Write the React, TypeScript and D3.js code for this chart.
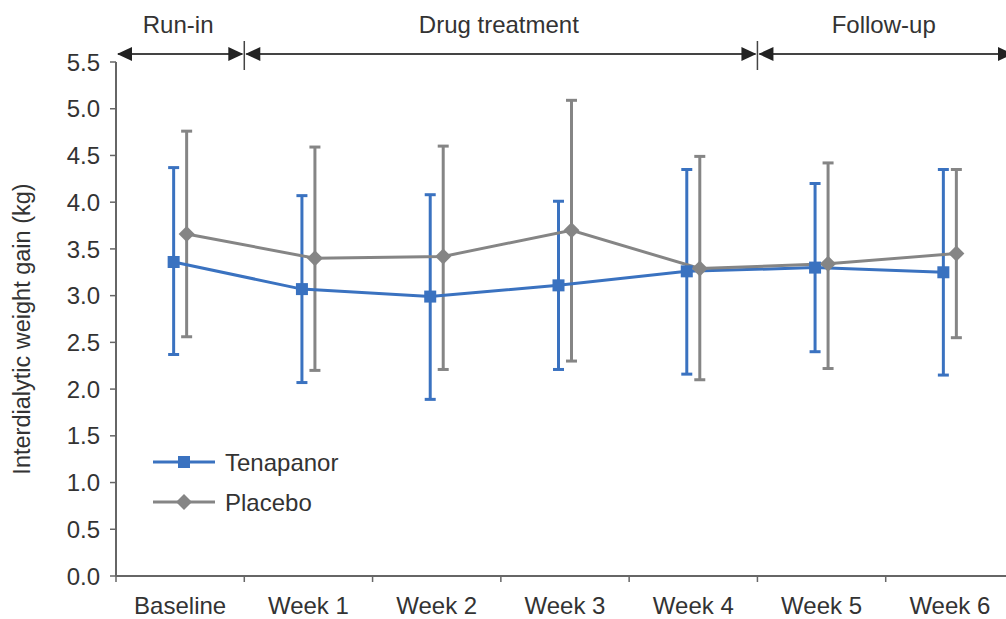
import React from "react";
import * as d3 from "d3";

const categories = ["Baseline", "Week 1", "Week 2", "Week 3", "Week 4", "Week 5", "Week 6"];
const tenapanorMean = [3.36, 3.07, 2.99, 3.11, 3.26, 3.30, 3.25];
const tenapanorLow = [2.37, 2.07, 1.89, 2.21, 2.16, 2.40, 2.15];
const tenapanorHigh = [4.37, 4.07, 4.08, 4.01, 4.35, 4.20, 4.35];
const placeboMean = [3.66, 3.40, 3.42, 3.70, 3.29, 3.34, 3.45];
const placeboLow = [2.56, 2.20, 2.21, 2.30, 2.10, 2.22, 2.55];
const placeboHigh = [4.76, 4.59, 4.60, 5.09, 4.49, 4.42, 4.35];
const yTicks = [0, 0.5, 1, 1.5, 2, 2.5, 3, 3.5, 4, 4.5, 5, 5.5];
const phases = [
  { label: "Run-in", from: "Baseline", to: "Baseline" },
  { label: "Drug treatment", from: "Week 1", to: "Week 4" },
  { label: "Follow-up", from: "Week 5", to: "Week 6" },
];

const W = 1006;
const H = 619;
const BLUE = "#3a72c0";
const GRAY = "#858585";
const AXIS = "#666666";
const TEXT = "#333333";
const FONT = "Liberation Sans, Arial, sans-serif";

export default function App() {
  const x = d3.scaleBand<string>().domain(categories).range([116, 1014]).paddingInner(0).paddingOuter(0);
  const y = d3.scaleLinear().domain([0, 5.5]).range([576, 62]);
  const bw = x.bandwidth();
  const off = 6.5;
  const cx = (c: string) => (x(c) as number) + bw / 2;

  const series = [
    { name: "Tenapanor", color: BLUE, mean: tenapanorMean, low: tenapanorLow, high: tenapanorHigh, dx: -off, marker: "square" },
    { name: "Placebo", color: GRAY, mean: placeboMean, low: placeboLow, high: placeboHigh, dx: off, marker: "diamond" },
  ];

  const line = d3.line<[number, number]>().x((d) => d[0]).y((d) => d[1]);

  const marker = (kind: string, px: number, py: number, color: string, key: string) =>
    kind === "square" ? (
      <rect key={key} x={px - 6} y={py - 6} width={12} height={12} fill={color} />
    ) : (
      <path key={key} d={`M${px},${py - 8}L${px + 8},${py}L${px},${py + 8}L${px - 8},${py}Z`} fill={color} />
    );

  const arrowY = 54;
  const tri = (tipX: number, dir: number, key: string) => (
    <path key={key} d={`M${tipX},${arrowY}L${tipX - dir * 15},${arrowY - 7}L${tipX - dir * 15},${arrowY + 7}Z`} fill="#222" />
  );

  return (
    <svg width={W} height={H} style={{ position: "absolute", left: 0, top: 0, background: "#fff" }} fontFamily={FONT}>
      {/* phase header */}
      {phases.map((p, i) => {
        const x0 = x(p.from) as number;
        const x1 = (x(p.to) as number) + bw;
        return (
          <g key={p.label}>
            <line x1={x0 + 2} x2={x1 - 2} y1={arrowY} y2={arrowY} stroke="#444" strokeWidth={2} />
            {tri(x0 + 1, -1, "l" + i)}
            {tri(x1 - 1, 1, "r" + i)}
            <text x={(x0 + x1) / 2 - 2} y={33} textAnchor="middle" fontSize={24} fill={TEXT}>{p.label}</text>
          </g>
        );
      })}
      {[x("Week 1") as number, x("Week 5") as number].map((d, i) => (
        <line key={"div" + i} x1={d} x2={d} y1={41} y2={70} stroke="#444" strokeWidth={1.5} />
      ))}

      {/* axes */}
      <line x1={116} x2={W} y1={y(0)} y2={y(0)} stroke={AXIS} strokeWidth={2} />
      <line x1={116} x2={116} y1={y(0)} y2={y(5.5)} stroke={AXIS} strokeWidth={2} />
      {yTicks.map((t) => (
        <g key={"yt" + t}>
          <line x1={110} x2={116} y1={y(t)} y2={y(t)} stroke={AXIS} strokeWidth={1.5} />
          <text x={100} y={y(t)} dy="0.36em" textAnchor="end" fontSize={24} fill={TEXT}>{t.toFixed(1)}</text>
        </g>
      ))}
      {categories.map((c) => (
        <g key={"xt" + c}>
          <line x1={x(c) as number} x2={x(c) as number} y1={y(0)} y2={y(0) + 6} stroke={AXIS} strokeWidth={1.5} />
          <text x={cx(c)} y={614} textAnchor="middle" fontSize={24} fill={TEXT}>{c}</text>
        </g>
      ))}
      <text transform={`translate(30,329) rotate(-90)`} textAnchor="middle" fontSize={23.5} fill={TEXT}>
        Interdialytic weight gain (kg)
      </text>

      {/* error bars */}
      {series.map((s) =>
        categories.map((c, i) => {
          const px = cx(c) + s.dx;
          return (
            <g key={s.name + "eb" + i} stroke={s.color} strokeWidth={3}>
              <line x1={px} x2={px} y1={y(s.low[i])} y2={y(s.high[i])} />
              <line x1={px - 5.5} x2={px + 5.5} y1={y(s.low[i])} y2={y(s.low[i])} />
              <line x1={px - 5.5} x2={px + 5.5} y1={y(s.high[i])} y2={y(s.high[i])} />
            </g>
          );
        })
      )}
      {/* lines */}
      {series.map((s) => (
        <path
          key={s.name + "line"}
          d={line(categories.map((c, i) => [cx(c) + s.dx, y(s.mean[i])]) as [number, number][]) || ""}
          fill="none"
          stroke={s.color}
          strokeWidth={3}
        />
      ))}
      {/* markers */}
      {series.map((s) => categories.map((c, i) => marker(s.marker, cx(c) + s.dx, y(s.mean[i]), s.color, s.name + "m" + i)))}

      {/* legend */}
      {series.map((s, i) => {
        const ly = 462 + i * 40;
        return (
          <g key={s.name + "lg"}>
            <line x1={153} x2={215} y1={ly} y2={ly} stroke={s.color} strokeWidth={3} />
            {marker(s.marker, 184, ly, s.color, s.name + "lgm")}
            <text x={225} y={ly} dy="0.36em" fontSize={24} fill={TEXT}>{s.name}</text>
          </g>
        );
      })}
    </svg>
  );
}
